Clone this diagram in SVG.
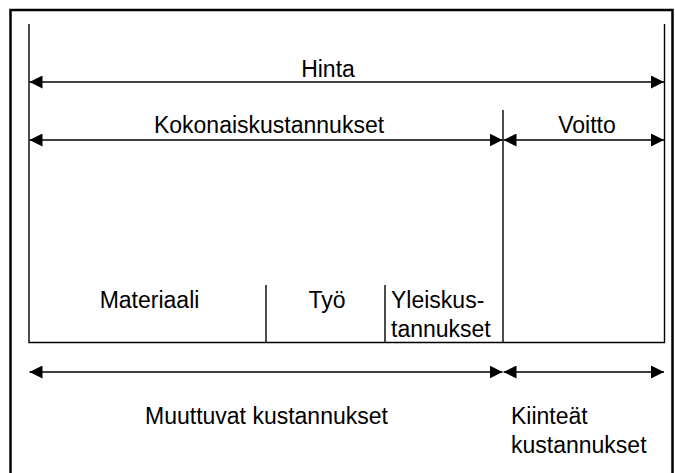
<svg xmlns="http://www.w3.org/2000/svg" width="675" height="473" viewBox="0 0 675 473">
<style>
.t{font-family:"Liberation Sans",Arial,sans-serif;font-size:23px;fill:#000}
.ln{stroke:#000;stroke-width:1.4;fill:none}
.ar{stroke:#000;stroke-width:1.7;fill:none;marker-start:url(#ah);marker-end:url(#ah)}
</style>
<defs>
<marker id="ah" viewBox="0 0 13 13" refX="13" refY="6.5" markerWidth="13" markerHeight="13" markerUnits="userSpaceOnUse" orient="auto-start-reverse">
<path d="M0,0 L13,6.5 L0,13 Z" fill="#000"/>
</marker>
</defs>
<rect width="675" height="473" fill="#fff"/>
<path d="M10.5,474 V10 H672.5 V474" stroke="#000" stroke-width="2.5" fill="none"/>
<g id="frame">
<path class="ln" d="M29,24 V342.5 H664.5 V24"/>
<path class="ln" d="M503,110 V342.5"/>
<path class="ln" d="M266,285 V342.5"/>
<path class="ln" d="M385,285 V342.5"/>
</g>
<g id="connectors">
<line class="ar" x1="29.5" y1="82" x2="664" y2="82"/>
<line class="ar" x1="29.5" y1="140" x2="502.5" y2="140"/>
<line class="ar" x1="503.5" y1="140" x2="664" y2="140"/>
<line class="ar" x1="29.5" y1="372" x2="502.5" y2="372"/>
<line class="ar" x1="503.5" y1="372" x2="664" y2="372"/>
</g>
<g id="hinta"><text class="t" x="328" y="77" text-anchor="middle">Hinta</text></g>
<g id="kokonaiskustannukset"><text class="t" x="269" y="133" text-anchor="middle">Kokonaiskustannukset</text></g>
<g id="voitto"><text class="t" x="587" y="133" text-anchor="middle">Voitto</text></g>
<g id="materiaali"><text class="t" x="149.5" y="308" text-anchor="middle">Materiaali</text></g>
<g id="tyo"><text class="t" x="327" y="308" text-anchor="middle">Työ</text></g>
<g id="yleiskustannukset"><text class="t" x="391" y="308">Yleiskus-</text><text class="t" x="391" y="337">tannukset</text></g>
<g id="muuttuvat"><text class="t" x="145" y="424">Muuttuvat kustannukset</text></g>
<g id="kiinteat"><text class="t" x="511" y="424">Kiinteät</text><text class="t" x="511" y="453">kustannukset</text></g>
</svg>
